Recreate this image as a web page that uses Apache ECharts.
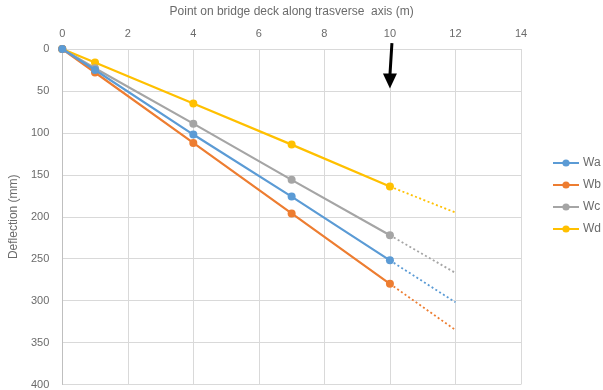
<!DOCTYPE html>
<html>
<head>
<meta charset="utf-8">
<script src="https://cdn.jsdelivr.net/npm/echarts@6/dist/echarts.min.js"></script>
<style>
  html, body { margin: 0; padding: 0; background: #fff; }
  #chart { width: 603px; height: 390px; }
</style>
</head>
<body>
<div id="chart"></div>
<script>
// Measured points along the transverse axis (m)
const positions = [0, 1, 4, 7, 10];
// Trend continuation from the last measured point out to 12 m
const trendPositions = [10, 12];

// Deflection (mm) for each load case
const wa = [0, 25, 102, 176, 252];
const wb = [0, 28, 112, 196, 280];
const wc = [0, 23, 89, 156, 222];
const wd = [0, 16, 65, 114, 164];

const waTrend = [252, 302];
const wbTrend = [280, 335];
const wcTrend = [222, 267];
const wdTrend = [164, 195];

const seriesNames = ['Wa', 'Wb', 'Wc', 'Wd'];
const colors = ['#5B9BD5', '#ED7D31', '#A5A5A5', '#FFC000'];

// Load applied at this position (arrow spans these deflection values)
const loadPosition = 10;
const loadArrow = [-7, 47];

const xTicks = { min: 0, max: 14, interval: 2 };
const yTicks = { min: 0, max: 400, interval: 50 };

const textColor = '#6b6b6b';
const font = 'Liberation Sans, Arial, sans-serif';

function pairs(xs, ys) { return xs.map((x, i) => [x, ys[i]]); }

const measured = [wa, wb, wc, wd];
const trends = [waTrend, wbTrend, wcTrend, wdTrend];

const series = [];
measured.forEach((vals, i) => {
  series.push({
    name: seriesNames[i],
    type: 'line',
    data: pairs(positions, vals),
    symbol: 'circle',
    symbolSize: 8,
    color: colors[i],
    lineStyle: { width: 2.2, color: colors[i] },
    itemStyle: { color: colors[i] },
    z: 3 + (3 - i)
  });
});
trends.forEach((vals, i) => {
  series.push({
    name: seriesNames[i] + ' trend',
    type: 'line',
    data: pairs(trendPositions, vals),
    symbol: 'none',
    lineStyle: { width: 1.8, type: [2, 2.5], color: colors[i] },
    z: 2
  });
});

const chart = echarts.init(document.getElementById('chart'), null, { renderer: 'canvas' });
chart.setOption({
  animation: false,
  backgroundColor: '#fff',
  textStyle: { fontFamily: font },
  grid: { left: 61, top: 49, right: 82, bottom: 5 },
  legend: {
    data: seriesNames,
    orient: 'vertical',
    left: 547,
    top: 152,
    itemWidth: 26,
    itemHeight: 9,
    itemGap: 10,
    textStyle: { color: textColor, fontSize: 12, fontFamily: font, padding: [0, 0, 0, -1] }
  },
  xAxis: {
    type: 'value',
    position: 'top',
    min: xTicks.min, max: xTicks.max, interval: xTicks.interval,
    name: 'Point on bridge deck along trasverse  axis (m)',
    nameLocation: 'middle',
    nameGap: 31,
    nameTextStyle: { color: textColor, fontSize: 12, fontFamily: font },
    axisLine: { show: false },
    axisTick: { show: false },
    axisLabel: { color: textColor, fontSize: 11, margin: 10 },
    splitLine: { show: true, lineStyle: { color: '#D9D9D9', width: 1 } }
  },
  yAxis: {
    type: 'value',
    inverse: true,
    min: yTicks.min, max: yTicks.max, interval: yTicks.interval,
    name: 'Deflection (mm)',
    nameLocation: 'middle',
    nameGap: 40,
    nameTextStyle: { color: textColor, fontSize: 12, fontFamily: font },
    axisLine: { show: true, lineStyle: { color: '#BFBFBF', width: 1 } },
    axisTick: { show: false },
    axisLabel: { color: textColor, fontSize: 11, margin: 13 },
    splitLine: { show: true, lineStyle: { color: '#D9D9D9', width: 1 } }
  },
  series: series
});

// Load arrow, positioned through the axes
const arrowStart = chart.convertToPixel({ gridIndex: 0 }, [loadPosition, loadArrow[0]]);
const arrowTip = chart.convertToPixel({ gridIndex: 0 }, [loadPosition, loadArrow[1]]);
const headLen = 15, headHalf = 7;
chart.setOption({
  graphic: [
    {
      type: 'line',
      shape: { x1: arrowStart[0] + 2, y1: arrowStart[1], x2: arrowTip[0], y2: arrowTip[1] - headLen + 2 },
      style: { stroke: '#000', lineWidth: 3 },
      z: 100
    },
    {
      type: 'polygon',
      shape: { points: [[arrowTip[0] - headHalf, arrowTip[1] - headLen], [arrowTip[0] + headHalf, arrowTip[1] - headLen], [arrowTip[0], arrowTip[1]]] },
      style: { fill: '#000' },
      z: 100
    }
  ]
});
</script>
</body>
</html>
